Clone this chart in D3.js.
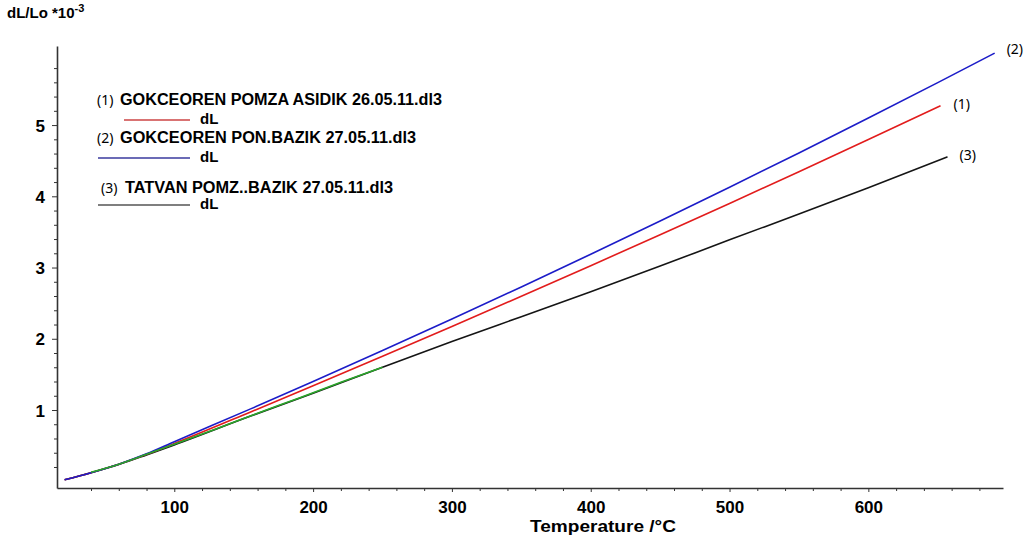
<!DOCTYPE html>
<html>
<head>
<meta charset="utf-8">
<script src="https://cdn.jsdelivr.net/npm/d3@7"></script>
<style>
  body { margin: 0; background: #fff; }
  svg { display: block; }
</style>
</head>
<body>
<div id="display"></div>
<script>
// temperatures (°C) and dL/Lo (*10^-3)
const temp1 = [21, 40, 60, 80, 100, 155, 200, 250, 300, 350, 400, 450, 500, 550, 600, 652];
const dl1   = [0.02, 0.12, 0.238, 0.378, 0.53, 0.973, 1.341, 1.754, 2.173, 2.596, 3.026, 3.46, 3.90, 4.345, 4.796, 5.27];

const temp2 = [21, 40, 60, 80, 100, 155, 200, 250, 300, 350, 400, 450, 500, 550, 600, 650, 691];
const dl2   = [0.02, 0.12, 0.24, 0.385, 0.555, 1.016, 1.401, 1.835, 2.278, 2.728, 3.187, 3.653, 4.127, 4.609, 5.099, 5.596, 6.01];

const temp3 = [21, 40, 60, 80, 100, 155, 200, 250, 300, 350, 400, 450, 500, 550, 600, 657];
const dl3   = [0.02, 0.12, 0.235, 0.37, 0.51, 0.915, 1.235, 1.60, 1.96, 2.31, 2.66, 3.02, 3.39, 3.75, 4.12, 4.555];

// short green trace lying on top of curve (3)
const tempG = [40, 60, 80, 100, 130, 160, 190, 220, 250];
const dlG   = [0.125, 0.24, 0.378, 0.52, 0.735, 0.955, 1.17, 1.39, 1.60];

const xMajor = [100, 200, 300, 400, 500, 600];
const yMajor = [1, 2, 3, 4, 5];

const legendNames = [
    "GOKCEOREN POMZA ASIDIK 26.05.11.dl3",
    "GOKCEOREN PON.BAZIK 27.05.11.dl3",
    "TATVAN POMZ..BAZIK 27.05.11.dl3"
];
const endLabels = ["(1)", "(2)", "(3)"];

const svg = d3.select('#display')
    .append('svg')
    .attr('width', 1024)
    .attr('height', 545);

const x = d3.scaleLinear().domain([15.5, 697]).range([57, 1003]);
const y = d3.scaleLinear().domain([-0.095, 6.11]).range([488, 46]);

const axisColor = "#333";
const boldFont = "'Liberation Sans', Arial, sans-serif";

// minor ticks
const xMinor = d3.range(40, 700, 20).filter(v => v % 100 !== 0);
const yMinor = d3.range(2, 59, 2).map(v => v / 10).filter(v => Math.abs(v - Math.round(v)) > 0.01);

svg.append('g')
    .attr('transform', 'translate(0,488)')
    .call(d3.axisBottom(x).tickValues(xMinor).tickSize(3).tickSizeOuter(0).tickFormat(""))
    .call(g => g.select('.domain').remove())
    .call(g => g.selectAll('line').attr('stroke', axisColor));

svg.append('g')
    .attr('transform', 'translate(57,0)')
    .call(d3.axisLeft(y).tickValues(yMinor).tickSize(3).tickSizeOuter(0).tickFormat(""))
    .call(g => g.select('.domain').remove())
    .call(g => g.selectAll('line').attr('stroke', axisColor));

// major axes
const xAxis = svg.append('g')
    .attr('transform', 'translate(0,488)')
    .call(d3.axisBottom(x).tickValues(xMajor).tickSize(4).tickSizeOuter(0).tickFormat(d3.format("d")));
xAxis.select('.domain').attr('stroke', axisColor).attr('stroke-width', 1.6);
xAxis.selectAll('line').attr('stroke', axisColor);
xAxis.selectAll('text')
    .attr('y', 25).attr('dy', 0)
    .attr('fill', '#000')
    .attr('font-family', boldFont)
    .attr('font-weight', 'bold')
    .attr('font-size', '17px');

const yAxis = svg.append('g')
    .attr('transform', 'translate(57,0)')
    .call(d3.axisLeft(y).tickValues(yMajor).tickSize(5).tickSizeOuter(0).tickFormat(d3.format("d")));
yAxis.select('.domain').attr('stroke', axisColor).attr('stroke-width', 1.6);
yAxis.selectAll('line').attr('stroke', axisColor);
yAxis.selectAll('text')
    .attr('x', -12).attr('dy', '0.36em')
    .attr('fill', '#000')
    .attr('font-family', boldFont)
    .attr('font-weight', 'bold')
    .attr('font-size', '17px');

// axis titles
const yTitle = svg.append('text')
    .attr('x', 7).attr('y', 18)
    .attr('font-family', boldFont)
    .attr('font-weight', 'bold')
    .attr('font-size', '15px')
    .attr('fill', '#000');
yTitle.append('tspan').text('dL/Lo *10');
yTitle.append('tspan').attr('dy', -6).attr('font-size', '11px').text('-3');

svg.append('text')
    .attr('x', 530).attr('y', 532)
    .attr('font-family', boldFont)
    .attr('font-weight', 'bold')
    .attr('font-size', '17px')
    .attr('textLength', 146)
    .attr('lengthAdjust', 'spacingAndGlyphs')
    .attr('fill', '#000')
    .text('Temperature /°C');

// curves
const line = d3.line()
    .x(d => x(d[0]))
    .y(d => y(d[1]))
    .curve(d3.curveMonotoneX);

const series = [
    {t: temp3, v: dl3, color: '#151515'},
    {t: temp1, v: dl1, color: '#e21c1c'},
    {t: temp2, v: dl2, color: '#1c1cc8'},
    {t: tempG, v: dlG, color: '#2aa52a'}
];

series.forEach(s => {
    svg.append('path')
        .datum(d3.zip(s.t, s.v))
        .attr('d', line)
        .attr('fill', 'none')
        .attr('stroke', s.color)
        .attr('stroke-width', 1.6);
});

// labels at the curve ends
const labelFont = "'Noto Sans', 'Open Sans', sans-serif";
const ends = [
    {t: temp1, v: dl1, dx: 13, dy: 3},
    {t: temp2, v: dl2, dx: 12, dy: 1},
    {t: temp3, v: dl3, dx: 12, dy: 3}
];
ends.forEach((e, i) => {
    const n = e.t.length - 1;
    svg.append('text')
        .attr('x', x(e.t[n]) + e.dx)
        .attr('y', y(e.v[n]) + e.dy)
        .attr('font-family', labelFont)
        .attr('font-size', '14px')
        .attr('fill', '#000')
        .text(endLabels[i]);
});

// legend
const legend = [
    {num: 97, name: 120, len: 322, base: 105, lineY: 120, x1: 124, color: '#cc4444'},
    {num: 97, name: 120, len: 296, base: 143, lineY: 158, x1: 98, color: '#3a3a9e'},
    {num: 101, name: 125, len: 268, base: 193, lineY: 205, x1: 98, color: '#555555'}
];
legend.forEach((l, i) => {
    svg.append('text')
        .attr('x', l.num).attr('y', l.base)
        .attr('font-family', labelFont)
        .attr('font-size', '14px')
        .attr('fill', '#000')
        .text(endLabels[i]);
    svg.append('text')
        .attr('x', l.name).attr('y', l.base)
        .attr('font-family', boldFont)
        .attr('font-weight', 'bold')
        .attr('font-size', '16px')
        .attr('textLength', l.len)
        .attr('lengthAdjust', 'spacingAndGlyphs')
        .attr('fill', '#000')
        .text(legendNames[i]);
    svg.append('line')
        .attr('x1', l.x1).attr('x2', 190)
        .attr('y1', l.lineY).attr('y2', l.lineY)
        .attr('stroke', l.color)
        .attr('stroke-width', 1.3);
    svg.append('text')
        .attr('x', 200).attr('y', l.lineY + 4)
        .attr('font-family', boldFont)
        .attr('font-weight', 'bold')
        .attr('font-size', '15px')
        .attr('fill', '#000')
        .text('dL');
});
</script>
</body>
</html>
